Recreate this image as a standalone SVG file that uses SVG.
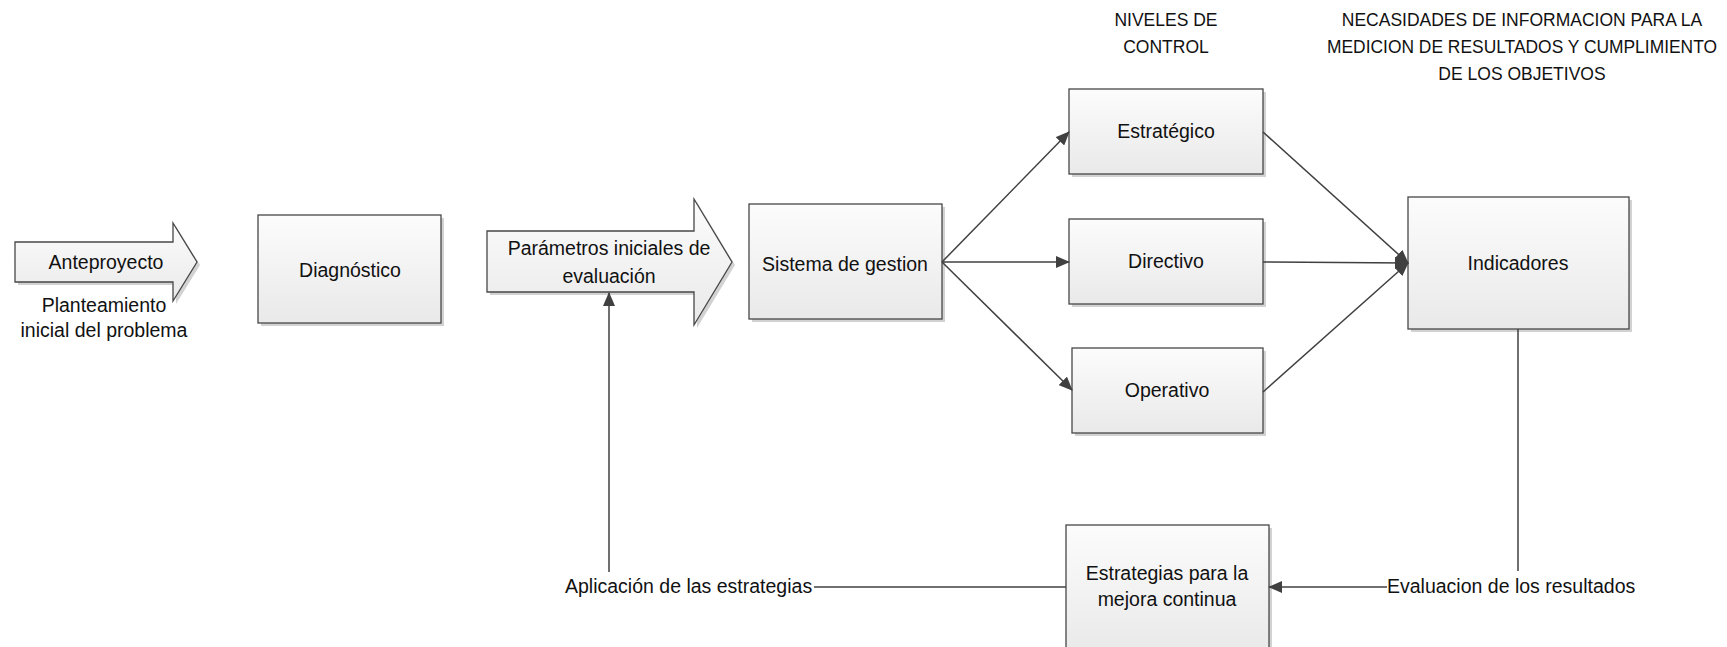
<svg xmlns="http://www.w3.org/2000/svg" width="1727" height="647" viewBox="0 0 1727 647">
<defs>
<linearGradient id="g" x1="0" y1="0" x2="0" y2="1">
<stop offset="0" stop-color="#fcfcfc"/>
<stop offset="1" stop-color="#e9e9e9"/>
</linearGradient>
<marker id="ah" markerUnits="userSpaceOnUse" markerWidth="14" markerHeight="12" viewBox="0 0 14 12" refX="13" refY="6" orient="auto">
<path d="M0,0 L14,6 L0,12 Z" fill="#404040"/>
</marker>
<style>
.box{fill:url(#g);stroke:#474747;stroke-width:1.3}
.sh{fill:#d2d2d2}
.t{font-family:"Liberation Sans",Arial,sans-serif;font-size:19.5px;fill:#111;text-anchor:middle}
.h{font-family:"Liberation Sans",Arial,sans-serif;font-size:17.5px;fill:#111;text-anchor:middle}
.l{font-family:"Liberation Sans",Arial,sans-serif;font-size:19.5px;fill:#111}
.c{fill:none;stroke:#404040;stroke-width:1.5}
</style>
</defs>
<rect width="1727" height="647" fill="#fff"/>

<g id="headers">
<text class="h" x="1166" y="26">NIVELES DE</text>
<text class="h" x="1166" y="53">CONTROL</text>
<text class="h" x="1522" y="26">NECASIDADES DE INFORMACION PARA LA</text>
<text class="h" x="1522" y="53" textLength="390" lengthAdjust="spacingAndGlyphs">MEDICION DE RESULTADOS Y CUMPLIMIENTO</text>
<text class="h" x="1522" y="80">DE LOS OBJETIVOS</text>
</g>

<g id="anteproyecto">
<polygon class="sh" points="18,245 176,245 176,226 200,265 176,304 176,285 18,285"/>
<polygon class="box" points="15,242 173,242 173,223 197,262 173,301 173,282 15,282"/>
<text class="t" x="106" y="269">Anteproyecto</text>
</g>

<g id="planteamiento">
<text class="t" x="104" y="312">Planteamiento</text>
<text class="t" x="104" y="337">inicial del problema</text>
</g>

<g id="diagnostico">
<rect class="sh" x="261" y="218" width="183" height="108"/>
<rect class="box" x="258" y="215" width="183" height="108"/>
<text class="t" x="350" y="277">Diagnóstico</text>
</g>

<g id="parametros">
<polygon class="sh" points="490,234 697,234 697,202 735,265 697,328 697,295 490,295"/>
<polygon class="box" points="487,231 694,231 694,199 732,262 694,325 694,292 487,292"/>
<text class="t" x="609" y="255">Parámetros iniciales de</text>
<text class="t" x="609" y="283">evaluación</text>
</g>

<g id="sistema">
<rect class="sh" x="752" y="207" width="193" height="115"/>
<rect class="box" x="749" y="204" width="193" height="115"/>
<text class="t" x="845" y="271">Sistema de gestion</text>
</g>

<g id="estrategico">
<rect class="sh" x="1072" y="92" width="194" height="85"/>
<rect class="box" x="1069" y="89" width="194" height="85"/>
<text class="t" x="1166" y="138">Estratégico</text>
</g>

<g id="directivo">
<rect class="sh" x="1072" y="222" width="194" height="85"/>
<rect class="box" x="1069" y="219" width="194" height="85"/>
<text class="t" x="1166" y="268">Directivo</text>
</g>

<g id="operativo">
<rect class="sh" x="1075" y="351" width="191" height="85"/>
<rect class="box" x="1072" y="348" width="191" height="85"/>
<text class="t" x="1167" y="397">Operativo</text>
</g>

<g id="indicadores">
<rect class="sh" x="1411" y="200" width="221" height="132"/>
<rect class="box" x="1408" y="197" width="221" height="132"/>
<text class="t" x="1518" y="270">Indicadores</text>
</g>

<g id="estrategias">
<rect class="sh" x="1069" y="528" width="203" height="130"/>
<rect class="box" x="1066" y="525" width="203" height="130"/>
<text class="t" x="1167" y="580">Estrategias para la</text>
<text class="t" x="1167" y="606">mejora continua</text>
</g>

<g id="connectors">
<line class="c" x1="942" y1="262" x2="1069" y2="132" marker-end="url(#ah)"/>
<line class="c" x1="942" y1="262" x2="1069" y2="262" marker-end="url(#ah)"/>
<line class="c" x1="942" y1="262" x2="1072" y2="390" marker-end="url(#ah)"/>
<line class="c" x1="1263" y1="132" x2="1408" y2="263" marker-end="url(#ah)"/>
<line class="c" x1="1263" y1="262" x2="1408" y2="263" marker-end="url(#ah)"/>
<line class="c" x1="1263" y1="392" x2="1408" y2="263" marker-end="url(#ah)"/>
<line class="c" x1="1518" y1="329" x2="1518" y2="571"/>
<line class="c" x1="1387" y1="587" x2="1269" y2="587" marker-end="url(#ah)"/>
<line class="c" x1="1066" y1="587" x2="814" y2="587"/>
<line class="c" x1="609" y1="572" x2="609" y2="293" marker-end="url(#ah)"/>
</g>

<g id="labels">
<text class="l" x="1387" y="593">Evaluacion de los resultados</text>
<text class="l" x="565" y="593">Aplicación de las estrategias</text>
</g>
</svg>
